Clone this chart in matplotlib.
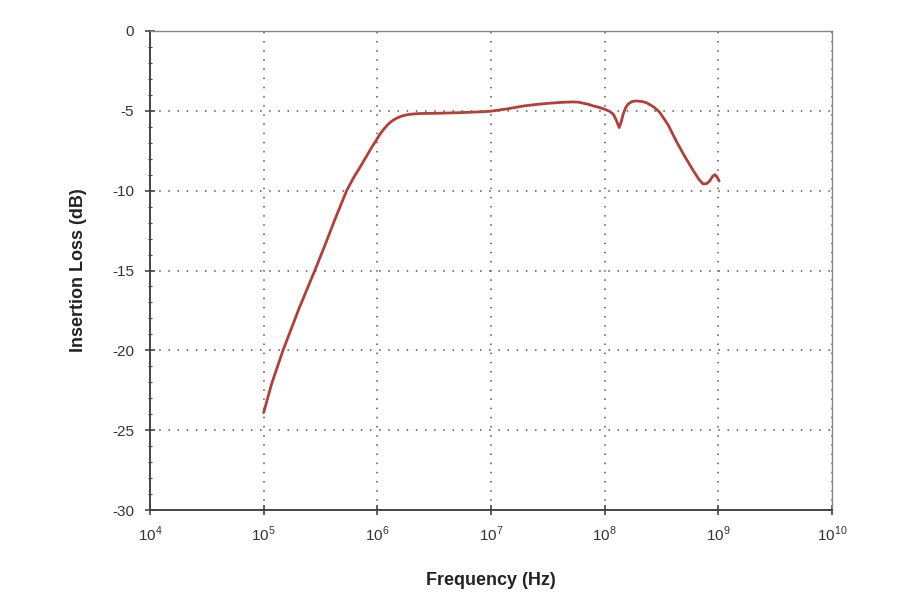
import matplotlib
matplotlib.use("Agg")
import matplotlib.pyplot as plt
import numpy as np
from matplotlib.ticker import FixedLocator, MultipleLocator

plt.rcParams['font.family'] = ['Liberation Sans', 'DejaVu Sans']
plt.rcParams['mathtext.fontset'] = 'custom'
plt.rcParams['mathtext.rm'] = 'Liberation Sans'

# curve: log10(frequency) and insertion loss in dB
log_freq = [5.00, 5.07, 5.17, 5.31, 5.45, 5.54, 5.627, 5.73, 5.79, 5.847,
            5.90, 5.95, 5.99, 6.023, 6.06, 6.097, 6.13, 6.17, 6.21, 6.257,
            6.31, 6.375, 6.55, 6.70, 6.85, 6.99, 7.14, 7.283, 7.40, 7.518,
            7.62, 7.723, 7.77, 7.81, 7.86, 7.898, 7.95, 8.00, 8.04, 8.075,
            8.10, 8.128, 8.145, 8.163, 8.185, 8.206, 8.24, 8.28, 8.33, 8.37,
            8.43, 8.485, 8.56, 8.63, 8.70, 8.78, 8.83, 8.866, 8.90, 8.925,
            8.95, 8.969, 8.99, 9.007]
loss_db = [-23.9, -22.1, -20.0, -17.4, -15.0, -13.4, -11.8, -10.0, -9.2, -8.54,
           -7.9, -7.29, -6.85, -6.46, -6.12, -5.83, -5.63, -5.46, -5.34, -5.25,
           -5.2, -5.17, -5.15, -5.12, -5.08, -5.03, -4.88, -4.7, -4.6, -4.52,
           -4.47, -4.44, -4.46, -4.52, -4.6, -4.69, -4.78, -4.9, -5.02, -5.2,
           -5.55, -6.05, -5.7, -5.2, -4.8, -4.58, -4.42, -4.38, -4.42, -4.5,
           -4.75, -5.1, -5.9, -6.9, -7.8, -8.75, -9.3, -9.58, -9.55, -9.38,
           -9.1, -9.0, -9.15, -9.4]

decades = [4, 5, 6, 7, 8, 9, 10]
y_ticks = [0, -5, -10, -15, -20, -25, -30]

freq = 10.0 ** np.array(log_freq)

fig = plt.figure(figsize=(9, 6), dpi=100)
ax = fig.add_axes([150 / 900, 1 - 510 / 600, (832 - 150) / 900, (510 - 31) / 600])

ax.plot(freq, loss_db, color='#b23f38', linewidth=2.0, zorder=3,
        solid_joinstyle='round', solid_capstyle='round')

ax.set_xscale('log')
ax.set_xlim(1e4, 1e10)
ax.set_ylim(-30, 0)
ax.xaxis.set_major_locator(FixedLocator([10.0 ** d for d in decades]))
ax.xaxis.set_minor_locator(FixedLocator([]))
ax.set_xticklabels([r'$10^{%d}$' % d for d in decades])
ax.set_yticks(y_ticks)
ax.set_yticklabels([str(v) for v in y_ticks])
ax.yaxis.set_minor_locator(MultipleLocator(1))

ax.grid(True, which='major', color='#555555', linestyle=(0, (1, 5)), linewidth=1.1)

for side in ['left', 'bottom']:
    ax.spines[side].set_color('#444444')
    ax.spines[side].set_linewidth(1.4)
for side in ['top', 'right']:
    ax.spines[side].set_color('#888888')
    ax.spines[side].set_linewidth(1.0)

ax.tick_params(axis='both', which='major', direction='inout', length=7,
               width=1.2, colors='#444444', labelsize=11, labelcolor='#333333')
ax.tick_params(axis='y', which='minor', direction='inout', length=3,
               width=0.8, colors='#444444')
ax.tick_params(axis='x', pad=7)
ax.tick_params(axis='y', pad=8)

ax.set_xlabel('Frequency (Hz)', fontsize=13, fontweight='bold', color='#222222', labelpad=20)
ax.set_ylabel('Insertion Loss (dB)', fontsize=13, fontweight='bold', color='#222222', labelpad=18)

fig.savefig('out.png', dpi=100)
plt.close(fig)
